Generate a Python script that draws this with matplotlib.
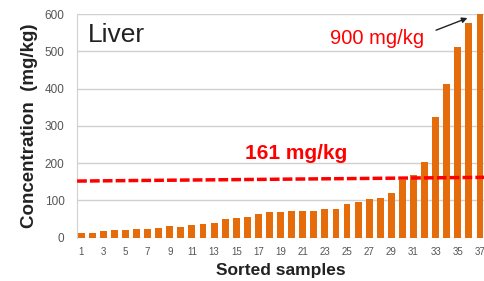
import matplotlib
matplotlib.use("Agg")
import matplotlib.pyplot as plt

plt.rcParams['font.family'] = ['Liberation Sans', 'DejaVu Sans']

samples = list(range(1, 38))
conc = [13, 13, 17, 21, 22, 24, 24, 25, 31, 30, 35, 37, 39, 50, 52, 55, 63, 68,
        70, 71, 73, 73, 77, 78, 90, 95, 105, 107, 121, 155, 169, 203, 323, 413,
        511, 577, 900]
xticks = list(range(1, 38, 2))
yticks = [0, 100, 200, 300, 400, 500, 600]
mean_line = [152, 162]   # hand drawn dashed line, left/right end
orange = '#E46C0A'

fig = plt.figure(figsize=(4.85, 2.81), dpi=100)
ax = fig.add_axes([0.159, 0.154, 0.841, 0.796])

ax.bar(samples, conc, width=0.62, color=orange, zorder=2)
ax.plot([0.64, 37.45], mean_line, color='#FF0000', lw=2.5,
        dashes=(2.8, 0.9), zorder=3)

ax.set_xlim(0.64, 37.45)
ax.set_ylim(0, 600)
ax.set_xticks(xticks)
ax.set_yticks(yticks)
ax.tick_params(axis='x', labelsize=7, colors='#555555', length=0, pad=7)
ax.tick_params(axis='y', labelsize=8.5, colors='#555555', length=0, pad=9)
ax.grid(axis='y', color='#d0d0d0', lw=1, zorder=0)
for s in ['top', 'right', 'bottom']:
    ax.spines[s].set_visible(False)
ax.spines['left'].set_color('#d0d0d0')

ax.set_ylabel('Concentration  (mg/kg)', fontsize=13.5, fontweight='bold',
              color='#222222', labelpad=5)
ax.set_xlabel('Sorted samples', fontsize=12.5, fontweight='bold',
              color='#222222', labelpad=4)

ax.text(1.6, 545, 'Liver', fontsize=19, color='#222222', va='center')
ax.text(27.7, 535, '900 mg/kg', fontsize=14.5, color='#FF0000',
        ha='center', va='center')
ax.annotate('', xy=(36.1, 592), xytext=(32.8, 554),
            arrowprops=dict(arrowstyle='-|>', color='#222222', lw=1,
                            mutation_scale=8))
ax.text(20.4, 227, '161 mg/kg', fontsize=15, fontweight='bold',
        color='#FF0000', ha='center', va='center')

fig.savefig('out.png', dpi=100)
